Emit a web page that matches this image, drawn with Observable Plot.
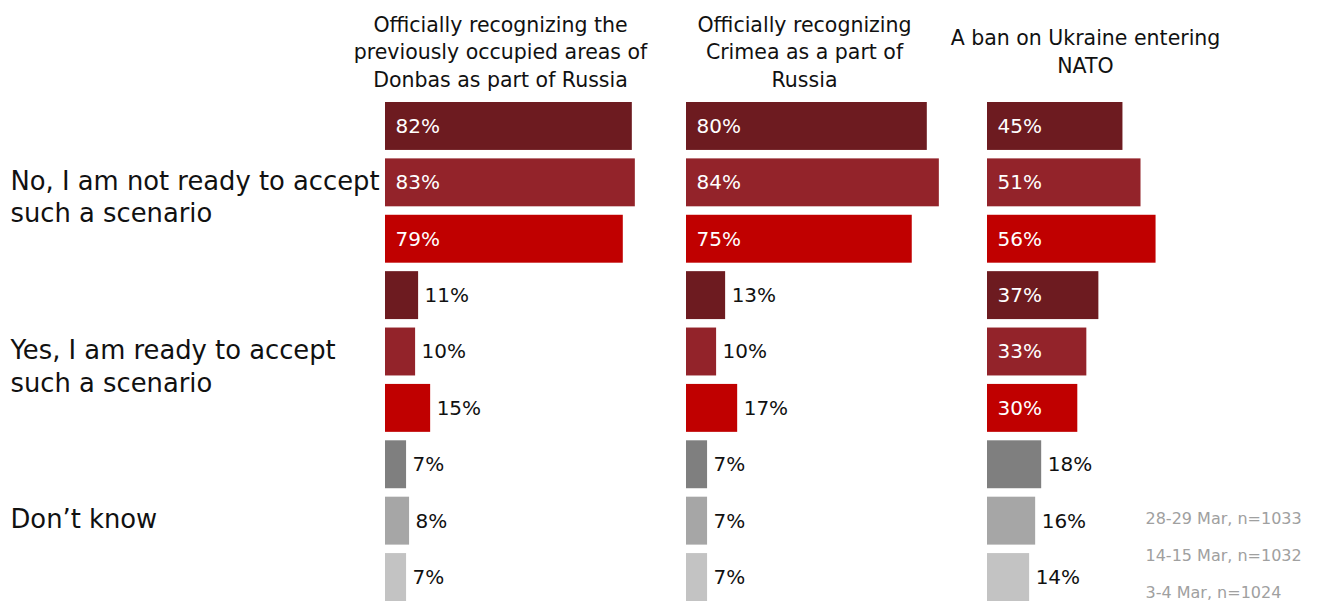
<!DOCTYPE html>
<html>
<head>
<meta charset="utf-8">
<script src="https://cdn.jsdelivr.net/npm/d3@7"></script>
<script src="https://cdn.jsdelivr.net/npm/@observablehq/plot@0.6"></script>
<style>
  html, body { margin: 0; padding: 0; background: #fff; overflow: hidden; }
  #chart svg { display: block; }
</style>
</head>
<body>
<div id="chart"></div>
<script>
// ---- data ----
const scenarios = [
  "Officially recognizing the\npreviously occupied areas of\nDonbas as part of Russia",
  "Officially recognizing\nCrimea as a part of\nRussia",
  "A ban on Ukraine entering\nNATO"
];
const answers = [
  "No, I am not ready to accept\nsuch a scenario",
  "Yes, I am ready to accept\nsuch a scenario",
  "Don’t know"
];
const waves = ["28-29 Mar, n=1033", "14-15 Mar, n=1032", "3-4 Mar, n=1024"];
// values per scenario: [No x3 waves, Yes x3 waves, Don't know x3 waves]
const donbasValues = [82, 83, 79, 11, 10, 15, 7, 8, 7];
const crimeaValues = [80, 84, 75, 13, 10, 17, 7, 7, 7];
const natoValues   = [45, 51, 56, 37, 33, 30, 18, 16, 14];

// ---- styles ----
const redShades  = ["#6d1b20", "#93232a", "#c00000"];
const greyShades = ["#7f7f7f", "#a6a6a6", "#c3c3c3"];
const FONT = "DejaVu Sans, Verdana, sans-serif";

// ---- table ----
const seriesValues = [donbasValues, crimeaValues, natoValues];
const rowKeys = [];
answers.forEach((a, ai) => waves.forEach((w, wi) => rowKeys.push(`${ai}|${wi}`)));
const rows = [];
scenarios.forEach((s, si) => {
  answers.forEach((a, ai) => {
    waves.forEach((w, wi) => {
      rows.push({
        scenario: s, answer: a, wave: w, row: `${ai}|${wi}`,
        value: seriesValues[si][ai * 3 + wi],
        color: (ai < 2 ? redShades : greyShades)[wi]
      });
    });
  });
});
const inside = d => d.value >= 25;
const fmt = d => `${d.value}%`;

const answerLabels = answers.map((a, ai) => ({answer: a, row: `${ai}|1`, scenario: scenarios[0]}));
const headerOffsets = [115, 118, 98]; // px from panel start to header centre

const chart = Plot.plot({
  width: 1318,
  height: 602,
  marginLeft: 385,
  marginRight: 30,
  marginTop: 102,
  marginBottom: 1,
  style: {fontFamily: FONT, background: "#fff"},
  fx: {domain: scenarios, padding: 0, axis: null, round: false},
  x: {domain: [0, 100], axis: null},
  y: {domain: rowKeys, paddingInner: 0.15, paddingOuter: 0, axis: null, round: false},
  marks: [
    Plot.barX(rows, {fx: "scenario", y: "row", x: "value", fill: "color"}),
    Plot.text(rows.filter(inside), {
      fx: "scenario", y: "row", x: 0, text: fmt, textAnchor: "start",
      dx: 10, fill: "white", fontSize: 20
    }),
    Plot.text(rows.filter(d => !inside(d)), {
      fx: "scenario", y: "row", x: "value", text: fmt, textAnchor: "start",
      dx: 6, fill: "#111", fontSize: 20
    }),
    // column headers
    ...scenarios.map((s, si) => Plot.text([s], {
      fx: () => s, text: d => d, frameAnchor: "top-left", textAnchor: "middle",
      lineAnchor: "middle", dx: headerOffsets[si], dy: -52, lineHeight: 1.36,
      fontSize: 20.5, fill: "#111"
    })),
    // answer labels on the left
    Plot.text(answerLabels, {
      fx: "scenario", y: "row", text: "answer", frameAnchor: "left",
      textAnchor: "start", lineAnchor: "top", dx: -375, dy: -16,
      lineHeight: 1.26, fontSize: 25.8, fill: "#111"
    }),
    // wave legend
    Plot.text([waves.join("\n")], {
      fx: () => scenarios[2], text: d => d, frameAnchor: "bottom-right",
      textAnchor: "start", lineAnchor: "bottom", dx: -143, dy: -4,
      lineHeight: 2.3, fontSize: 16, fill: "#a0a0a0"
    })
  ]
});
document.getElementById("chart").appendChild(chart);
</script>
</body>
</html>
